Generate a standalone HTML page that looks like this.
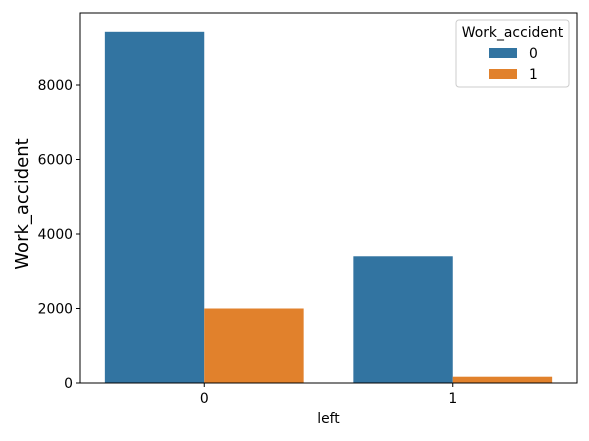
<!DOCTYPE html>
<html><head><meta charset="utf-8"><style>
body{margin:0;background:#fff;}
text{font-family:"DejaVu Sans","Liberation Sans",sans-serif;}
</style></head><body>
<svg id="chart" width="589" height="436" xmlns="http://www.w3.org/2000/svg"></svg>
<script>
const categories = ["0","1"];
const seriesNames = ["0","1"];
const series0 = [9428, 3402];
const series1 = [2000, 169];
const yTicks = [0, 2000, 4000, 6000, 8000];
const colors = ["#3274a1","#e1812c"];

const svg = document.getElementById('chart');
const NS = "http://www.w3.org/2000/svg";
const L=80, R=577, T=13, B=383;
const yScale = v => B - v * (298/8000);
const band = (R-L)/categories.length;
const xCenter = i => L + band*(i+0.5);
function el(tag, attrs, parent){const e=document.createElementNS(NS,tag);for(const k in attrs)e.setAttribute(k,attrs[k]);(parent||svg).appendChild(e);return e;}

const bw = band*0.4;
[series0, series1].forEach((s, si) => {
  s.forEach((v, i) => {
    const x = xCenter(i) - bw + si*bw;
    const r = el('rect',{x:x,y:yScale(v),width:bw,height:B-yScale(v),fill:colors[si]});
    
    
  });
});

const frame = el('rect',{x:L,y:T,width:R-L,height:B-T,fill:'none',stroke:'#000','stroke-width':1});



yTicks.forEach(t => {
  const y = yScale(t);
  el('line',{x1:L-4,x2:L,y1:y,y2:y,stroke:'#000'});
  const tx = el('text',{x:L-7,y:y+5,'text-anchor':'end','font-size':13.9}); tx.textContent=t;
  
  
});
categories.forEach((c,i) => {
  const x = xCenter(i);
  el('line',{x1:x,x2:x,y1:B,y2:B+4,stroke:'#000'});
  const tx = el('text',{x:x,y:B+20,'text-anchor':'middle','font-size':13.9}); tx.textContent=c;
  
  
});
const xt = el('text',{x:(L+R)/2,y:423,'text-anchor':'middle','font-size':13.9}); xt.textContent='left';


const yt = el('text',{x:0,y:0,'text-anchor':'middle','font-size':18,transform:`translate(28,204) rotate(-90)`}); yt.textContent='Work_accident';



const lg = el('g',{});


el('rect',{x:456,y:20,width:113,height:67,rx:3,fill:'#fff','fill-opacity':0.8,stroke:'#ccc'},lg);
const lt = el('text',{x:512.5,y:37,'text-anchor':'middle','font-size':13.9},lg); lt.textContent='Work_accident';
seriesNames.forEach((n,i) => {
  const y = 48 + i*21;
  const p = el('rect',{x:489,y:y,width:28,height:10,fill:colors[i]},lg);
  
  
  const t = el('text',{x:529,y:y+10,'font-size':13.9},lg); t.textContent=n;
  
  
});
</script>
</body></html>
